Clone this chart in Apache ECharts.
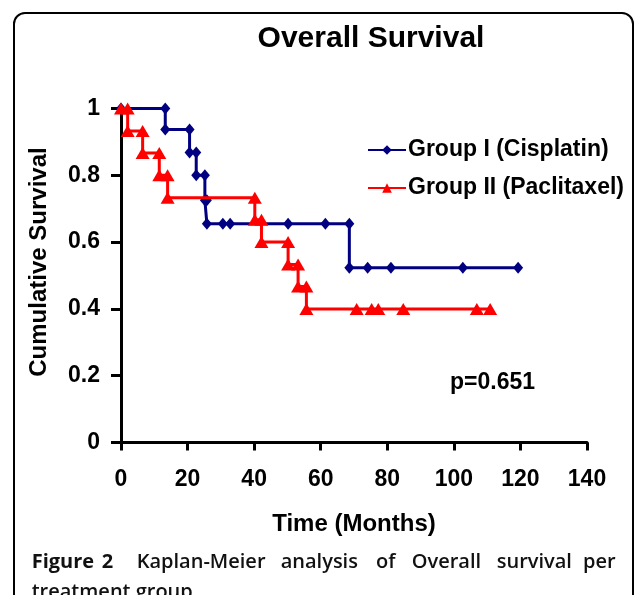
<!DOCTYPE html>
<html>
<head>
<meta charset="utf-8">
<script src="https://cdn.jsdelivr.net/npm/echarts@6/dist/echarts.min.js"></script>
<style>html,body{margin:0;padding:0;background:#fff;}#c{width:635px;height:595px;}</style>
</head>
<body>
<div id="c"></div>
<script>
// ---- data ----
const seriesNames = ['Group I (Cisplatin)', 'Group II (Paclitaxel)'];
const xTicks = [0, 20, 40, 60, 80, 100, 120, 140];
const yTicks = [0, 0.2, 0.4, 0.6, 0.8, 1];

const cisEventTimes = [13.3, 20.6, 22.6, 25.2, 25.8, 68.6];
const cisSurvival   = [0.937, 0.868, 0.80, 0.725, 0.655, 0.523];
const cisCensorTimes = [30.6, 32.8, 50.2, 61.4, 74.1, 81.1, 102.7, 119.3];

const pacEventTimes = [2.0, 6.5, 11.5, 14.0, 40.2, 42.2, 50.2, 53.2, 55.7];
const pacSurvival   = [0.933, 0.867, 0.80, 0.733, 0.667, 0.60, 0.533, 0.467, 0.40];
const pacCensorTimes = [70.8, 75.3, 77.3, 84.8, 106.9, 110.9];

const pValueText = 'p=0.651';
const captionWords = [
  {t:'Figure', b:true}, {t:'2', b:true}, {t:'Kaplan-Meier'}, {t:'analysis'},
  {t:'of'}, {t:'Overall'}, {t:'survival'}, {t:'per'}
];
const captionLine2 = 'treatment group.';

// build Kaplan-Meier step points (with markers at every point)
function kmPoints(evT, evS, cenT) {
  const items = [];
  evT.forEach((t, i) => items.push({t, type:'e', s: evS[i]}));
  cenT.forEach(t => items.push({t, type:'c'}));
  items.sort((a, b) => a.t - b.t);
  const pts = [[0, 1]];
  let cur = 1;
  items.forEach(it => {
    if (it.type === 'e') { pts.push([it.t, cur]); cur = it.s; pts.push([it.t, cur]); }
    else pts.push([it.t, cur]);
  });
  return pts;
}

const FONT = '"Liberation Sans", Arial, sans-serif';
const CAP = '"Open Sans", sans-serif';
const chart = echarts.init(document.getElementById('c'), null, {renderer: 'canvas'});
const captionX = [31.7, 101.7, 136.7, 280.7, 376, 411.7, 496.7, 583];

const graphics = [
  {type:'rect', shape:{x:14, y:13, width:619, height:800, r:11}, style:{fill:'none', stroke:'#000', lineWidth:2}, silent:true},
  {type:'text', x:371, y:39, style:{text:'Overall Survival', font:'bold 30px ' + FONT, fill:'#000', align:'center', verticalAlign:'middle'}},
  {type:'text', x:39, y:262, rotation:Math.PI/2, style:{text:'Cumulative Survival', font:'bold 24px ' + FONT, fill:'#000', align:'center', verticalAlign:'middle'}},
  {type:'text', x:354, y:524, style:{text:'Time (Months)', font:'bold 24px ' + FONT, fill:'#000', align:'center', verticalAlign:'middle'}},
  {type:'text', x:450, y:383, style:{text:pValueText, font:'bold 23px ' + FONT, fill:'#000', align:'left', verticalAlign:'middle'}},
  {type:'text', x:31.7, y:592, style:{text:captionLine2, font:'600 20px ' + CAP, fill:'#111', align:'left', verticalAlign:'middle'}}
];
captionWords.forEach((w, i) => {
  graphics.push({type:'text', x:captionX[i], y:562, style:{text:w.t, font:(w.b ? 'bold ' : '600 ') + '20px ' + CAP, fill:'#111', align:'left', verticalAlign:'middle'}});
});

chart.setOption({
  animation: false,
  backgroundColor: '#fff',
  grid: {left:121, right:48, top:108.5, bottom:152.5, containLabel:false},
  legend: {
    orient:'vertical', left:362, top:132, itemWidth:38, itemHeight:12, itemGap:12,
    data: seriesNames,
    textStyle:{fontFamily:FONT, fontWeight:'bold', fontSize:23, color:'#000', lineHeight:26, padding:[0,0,0,-3]}
  },
  xAxis: {
    type:'value', min:xTicks[0], max:xTicks[xTicks.length-1], interval:20,
    axisLine:{lineStyle:{color:'#000', width:3}},
    axisTick:{show:true, length:8, inside:false, lineStyle:{color:'#000', width:3}},
    axisLabel:{fontFamily:FONT, fontWeight:'bold', fontSize:23, color:'#000', margin:26},
    splitLine:{show:false}
  },
  yAxis: {
    type:'value', min:yTicks[0], max:yTicks[yTicks.length-1], interval:0.2,
    axisLine:{show:true, lineStyle:{color:'#000', width:3}},
    axisTick:{show:true, length:10, inside:false, lineStyle:{color:'#000', width:3}},
    axisLabel:{fontFamily:FONT, fontWeight:'bold', fontSize:23, color:'#000', margin:21},
    splitLine:{show:false}
  },
  series: [
    {
      name: seriesNames[0], type:'line', data: kmPoints(cisEventTimes, cisSurvival, cisCensorTimes),
      symbol:'diamond', symbolSize:[10,12], showAllSymbol:true, clip:false,
      lineStyle:{color:'#000080', width:3}, itemStyle:{color:'#000080'}, z:3
    },
    {
      name: seriesNames[1], type:'line', data: kmPoints(pacEventTimes, pacSurvival, pacCensorTimes),
      symbol:'triangle', symbolSize:[14,12], showAllSymbol:true, clip:false,
      lineStyle:{color:'#ff0000', width:3}, itemStyle:{color:'#ff0000'}, z:4
    }
  ],
  graphic: graphics
});
</script>
</body>
</html>
